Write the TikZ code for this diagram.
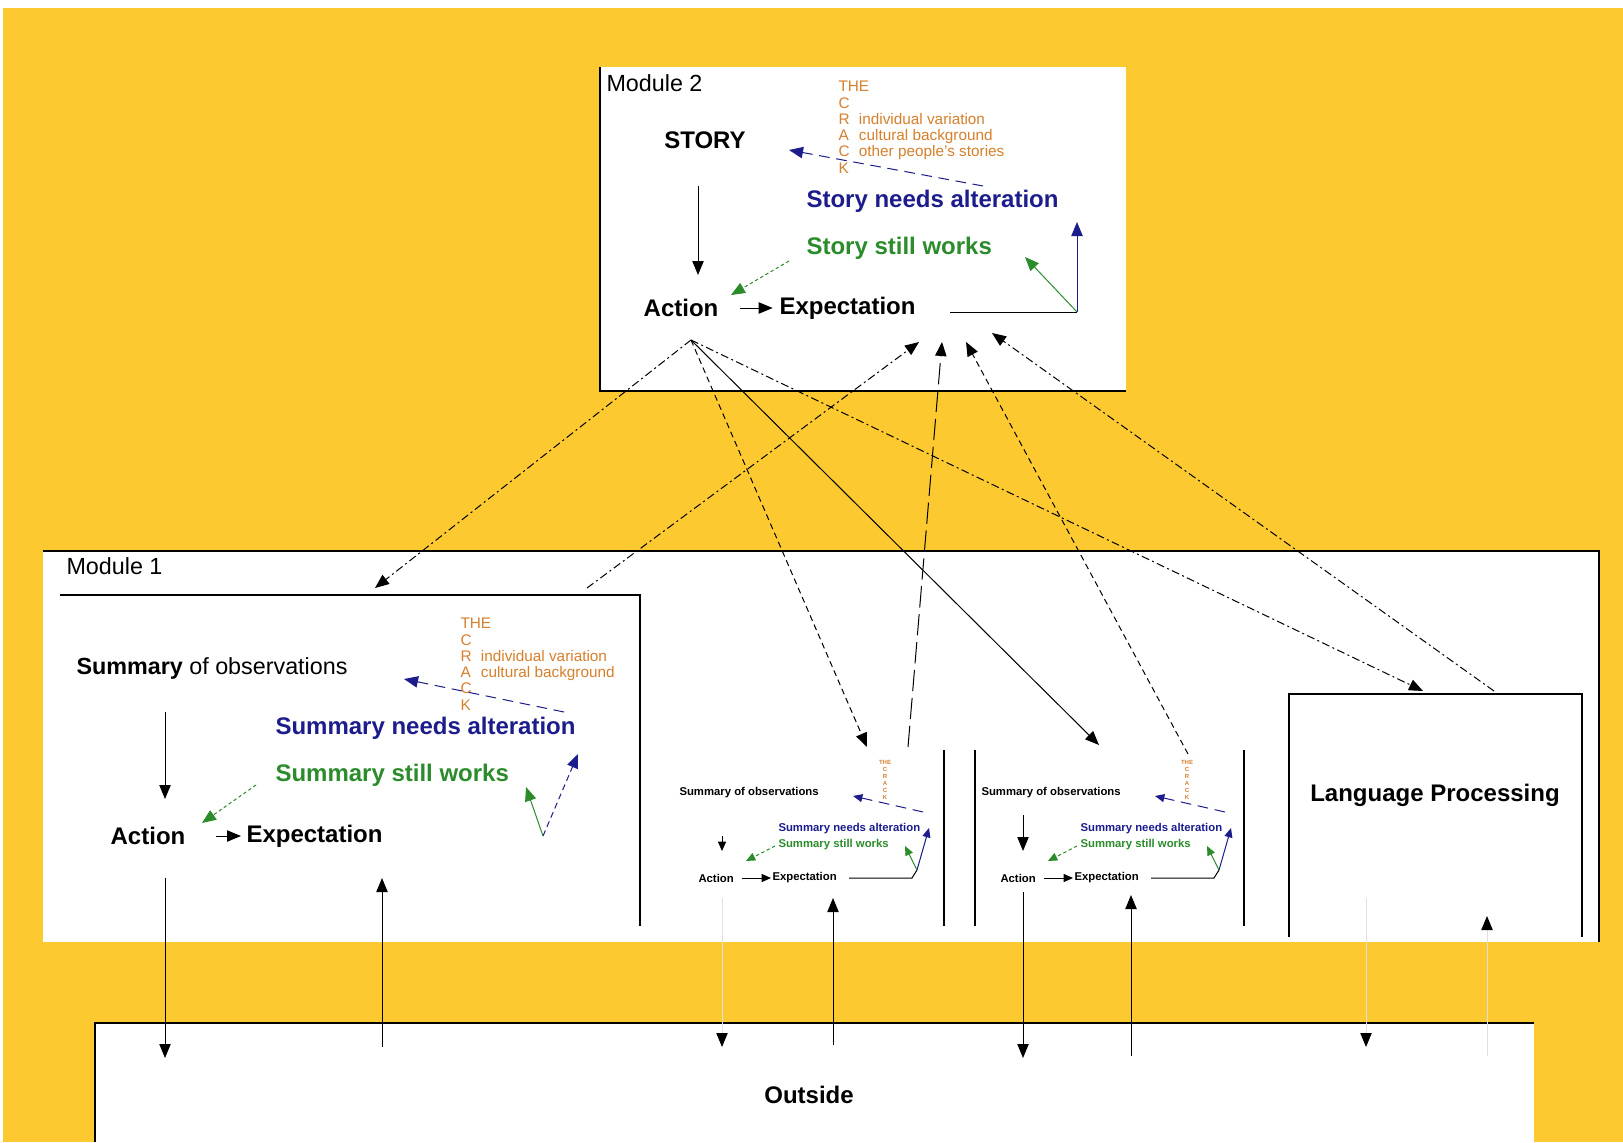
\documentclass[tikz,border=0pt]{standalone}
\usepackage{fontspec}
\setmainfont{Liberation Sans}
\usetikzlibrary{arrows.meta}

\definecolor{bgyellow}{RGB}{252,202,48}
\definecolor{altblue}{RGB}{28,28,140}
\definecolor{worksgreen}{RGB}{44,140,44}
\definecolor{crackorange}{RGB}{214,128,44}

\tikzset{every picture/.style={line width=0.75pt}}
\tikzset{
  bigtxt/.style={font=\fontsize{18}{20}\selectfont\bfseries, inner sep=0.75pt},
  modtxt/.style={font=\fontsize{17.5}{20}\selectfont, inner sep=0.75pt},
  smalltxt/.style={font=\fontsize{8.5}{10}\selectfont\bfseries, inner sep=0.75pt},
  cracktxt/.style={font=\fontsize{11.5}{12.2}\selectfont, text=crackorange, inner sep=0pt},
  tinycrack/.style={font=\fontsize{4.5}{5.2}\selectfont\bfseries, text=crackorange, inner sep=0pt, align=center},
  headarr/.style={-{Triangle[length=10.5pt,width=8.5pt]}},
  smallarr/.style={-{Triangle[length=7pt,width=6pt]}},
  lnkdashdot/.style={dash pattern=on 6pt off 2.5pt on 1.5pt off 2.5pt},
  lnkdash/.style={dash pattern=on 4.5pt off 3pt},
  lnklong/.style={dash pattern=on 16pt off 5pt},
  altdash/.style={dash pattern=on 8pt off 5pt},
  finedash/.style={dash pattern=on 2.5pt off 2pt},
  rim/.style={line width=1.2pt},
}

\begin{document}
\begin{tikzpicture}[x=0.75pt,y=0.75pt,yscale=-1,xscale=1]
\useasboundingbox (0,0) rectangle (1623,1142);

%Shape: Rectangle (background)
\fill [bgyellow] (3,8) rectangle (1623,1142);

%Shape: Rectangle (module 2)
\fill [white] (600,67) rectangle (1126,391);
\draw [rim] (600,67) -- (600,391) -- (1126,391);
%Shape: Rectangle (module 1)
\fill [white] (43,551) rectangle (1599,942);
\draw [rim] (43,551) -- (1599,551) -- (1599,942);
%Straight Lines (summary panel)
\draw [rim] (60,595) -- (640,595) -- (640,926);
%Straight Lines (small panels)
\draw [rim] (944,750) -- (944,926);
\draw [rim] (975,750) -- (975,926);
\draw [rim] (1244,750) -- (1244,926);
%Shape: Rectangle (language processing)
\draw [rim] (1289,937) -- (1289,694) -- (1582,694) -- (1582,937);
%Shape: Rectangle (outside)
\fill [white] (95,1023) rectangle (1534,1142);
\draw [rim] (95,1142) -- (95,1023) -- (1534,1023);

% Text Node
\draw (605,83) node [anchor=west][modtxt] (modtwo) {Module 2};
% Text Node
\draw (705,140) node [bigtxt] (story) {STORY};
% Text Node
\draw (838,80) node [anchor=north west][cracktxt] (crack2) {\begin{tabular}{@{}l@{\hspace{7pt}}l@{}}\multicolumn{2}{@{}l}{THE}\\C\\R & individual variation\\A & cultural background\\C & other people's stories\\K\end{tabular}};
% Text Node
\draw (805,201) node [anchor=west][bigtxt, text=altblue] (alt2) {Story needs alteration};
% Text Node
\draw (805,248) node [anchor=west][bigtxt, text=worksgreen] (works2) {Story still works};
% Text Node
\draw (681,308) node [bigtxt] (act2) {Action};
% Text Node
\draw (778,308) node [anchor=west][bigtxt] (exp2) {Expectation};

%Straight Lines
\draw [headarr] (698,186) -- (698,275);
%Straight Lines
\draw [headarr, shorten <=15pt, shorten >=4pt] (act2.east) -- (exp2.west);
%Straight Lines
\coordinate (alt2tail) at (983,186);
\coordinate (alt2head) at (789,150);
\draw [headarr, altblue, altdash] (alt2tail) -- (alt2head);
%Straight Lines
\coordinate (works2tail) at (789,261);
\coordinate (works2head) at (731,295);
\draw [headarr, worksgreen, finedash] (works2tail) -- (works2head);
%Straight Lines
\coordinate (exp2end) at (950,312);
\coordinate (exp2knee) at (1077,312);
\draw (exp2end) -- (exp2knee);
\draw [headarr, altblue] (exp2knee) -- (1077,222);
\draw [headarr, worksgreen] (exp2knee) -- (1025,257);

% Text Node
\draw (65,566) node [anchor=west][modtxt] (modone) {Module 1};
% Text Node
\draw (75,668) node [anchor=west][modtxt] (sum1) {\textbf{Summary} of observations};
% Text Node
\draw (460,617) node [anchor=north west][cracktxt] (crack1) {\begin{tabular}{@{}l@{\hspace{7pt}}l@{}}\multicolumn{2}{@{}l}{THE}\\C\\R & individual variation\\A & cultural background\\C\\K\end{tabular}};
% Text Node
\draw (274,728) node [anchor=west][bigtxt, text=altblue] (alt1) {Summary needs alteration};
% Text Node
\draw (274,775) node [anchor=west][bigtxt, text=worksgreen] (works1) {Summary still works};
% Text Node
\draw (148,836) node [bigtxt] (act1) {Action};
% Text Node
\draw (245,836) node [anchor=west][bigtxt] (exp1) {Expectation};

%Straight Lines
\draw [headarr] (165,712) -- (165,799);
%Straight Lines
\draw [headarr, shorten <=22pt, shorten >=3pt] (act1.east) -- (exp1.west);
%Straight Lines
\draw [headarr, altblue, altdash] (564,712) -- (404,679);
%Straight Lines
\draw [headarr, worksgreen, finedash] (256,785) -- (202,823);
%Straight Lines
\coordinate (exp1knee) at (543,836);
\draw [headarr, altblue, lnkdash] (exp1knee) -- (578,754);
\draw [headarr, worksgreen] (exp1knee) -- (526,787);

% Text Node
\draw (678,793) node [anchor=west][smalltxt] (sumA) {Summary of observations};
% Text Node
\draw (885,780) node [tinycrack] (crackA) {THE\\C\\R\\A\\C\\K};
% Text Node
\draw (777,829) node [anchor=west][smalltxt, text=altblue] (altA) {Summary needs alteration};
% Text Node
\draw (777,845) node [anchor=west][smalltxt, text=worksgreen] (worksA) {Summary still works};
% Text Node
\draw (697,878) node [anchor=west][smalltxt] (actA) {Action};
% Text Node
\draw (771,878) node [anchor=west][smalltxt] (expA) {Expectation};

%Straight Lines
\draw [smallarr, altblue, altdash] (923,812) -- (853,796);
\draw [smallarr] (722,836) -- (722,851);
\draw [smallarr, worksgreen, finedash] (775,846) -- (746,861);
\draw [smallarr, shorten <=5pt] (actA.east) -- (expA.west);
\coordinate (expAknee) at (917,870);
\draw (849,878) -- (912,878) -- (expAknee);
\draw [smallarr, altblue] (expAknee) -- (929,828);
\draw [smallarr, worksgreen] (expAknee) -- (905,846);

% Text Node
\draw (980,793) node [anchor=west][smalltxt] (sumB) {Summary of observations};
% Text Node
\draw (1187,780) node [tinycrack] (crackB) {THE\\C\\R\\A\\C\\K};
% Text Node
\draw (1079,829) node [anchor=west][smalltxt, text=altblue] (altB) {Summary needs alteration};
% Text Node
\draw (1079,845) node [anchor=west][smalltxt, text=worksgreen] (worksB) {Summary still works};
% Text Node
\draw (999,878) node [anchor=west][smalltxt] (actB) {Action};
% Text Node
\draw (1073,878) node [anchor=west][smalltxt] (expB) {Expectation};

%Straight Lines
\draw [smallarr, altblue, altdash] (1225,812) -- (1155,796);
\draw [headarr] (1023,815) -- (1023,851);
\draw [smallarr, worksgreen, finedash] (1077,846) -- (1048,861);
\draw [smallarr, shorten <=5pt] (actB.east) -- (expB.west);
\coordinate (expBknee) at (1219,870);
\draw (1151,878) -- (1214,878) -- (expBknee);
\draw [smallarr, altblue] (expBknee) -- (1231,828);
\draw [smallarr, worksgreen] (expBknee) -- (1207,846);

% Text Node
\draw (1435,795) node [bigtxt] (lang) {Language Processing};
% Text Node
\draw (809,1095) node [bigtxt] (outside) {Outside};

%Straight Lines (module 1 <-> outside)
\draw [headarr] (165,878) -- (165,1058);
\draw [headarr] (382,1047) -- (382,878);
\draw [black!12, -{Triangle[length=10.5pt,width=8.5pt,color=black]}] (722,898) -- (722,1047);
\draw [headarr] (833,1045) -- (833,898);
\draw [headarr] (1023,892) -- (1023,1058);
\draw [headarr] (1131,1056) -- (1131,895);
\draw [black!12, -{Triangle[length=10.5pt,width=8.5pt,color=black]}] (1366,898) -- (1366,1047);
\draw [black!12, -{Triangle[length=10.5pt,width=8.5pt,color=black]}] (1487,1056) -- (1487,916);

%Straight Lines (module 2 <-> module 1)
\coordinate (act2port) at (691,340);
\coordinate (sum1in) at (375,588);
\coordinate (sum1out) at (587,588);
\coordinate (subAin) at (867,747);
\coordinate (subAout) at (908,747);
\coordinate (subBin) at (1099,745);
\coordinate (subBout) at (1188,754);
\coordinate (langin) at (1423,691);
\coordinate (langout) at (1494,691);
\coordinate (exp2inA) at (919,342);
\coordinate (exp2inB) at (942,342);
\coordinate (exp2inC) at (966,342);
\coordinate (exp2inD) at (992,333);
\draw [headarr, lnkdashdot] (act2port) -- (sum1in);
\draw [headarr, lnkdash] (act2port) -- (subAin);
\draw [headarr] (act2port) -- (subBin);
\draw [headarr, lnkdashdot] (act2port) -- (langin);
\draw [headarr, lnkdashdot] (sum1out) -- (exp2inA);
\draw [headarr, lnklong] (subAout) -- (exp2inB);
\draw [headarr, lnkdash] (subBout) -- (exp2inC);
\draw [headarr, lnkdashdot] (langout) -- (exp2inD);

\end{tikzpicture}
\end{document}
